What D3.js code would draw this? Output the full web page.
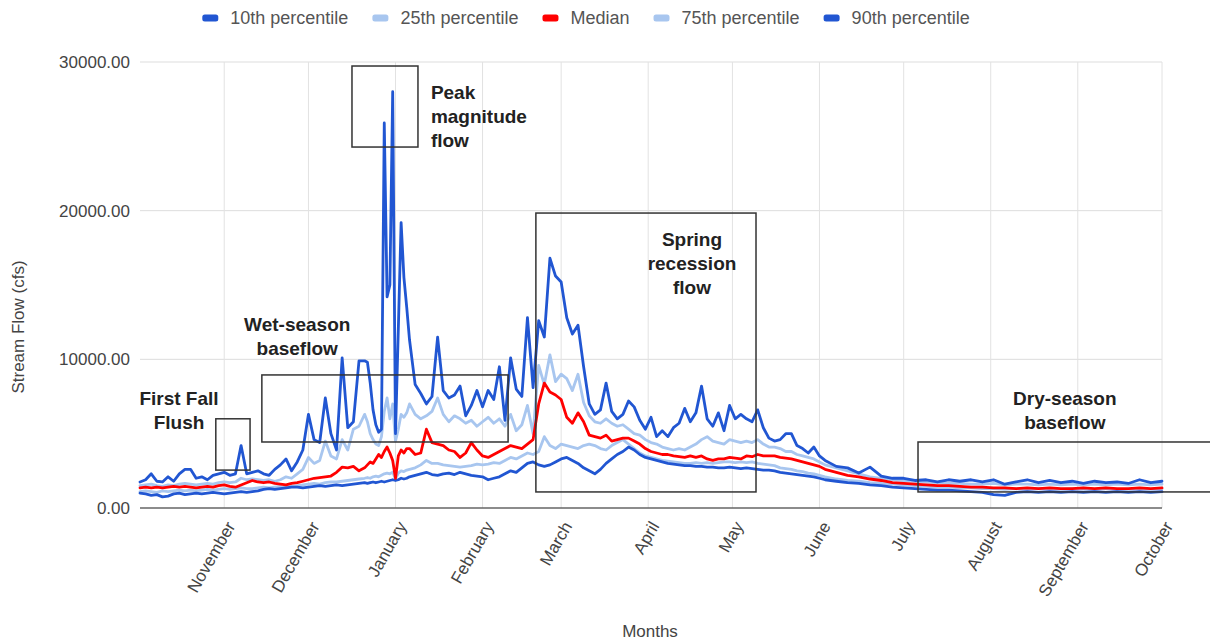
<!DOCTYPE html>
<html>
<head>
<meta charset="utf-8">
<script src="https://cdn.jsdelivr.net/npm/d3@7"></script>
<style>
  body { margin: 0; background: #fff; }
  text { font-family: "Liberation Sans", Arial, Helvetica, sans-serif; }
</style>
</head>
<body>
<svg id="chart" width="1210" height="641"></svg>
<script>
// day offsets from Oct 2 (water year), finer sampling round the January peak
const days = [
  0,2,4,6,8,10,12,14,16,18,20,22,24,26,28,30,32,34,36,38,40,42,44,46,48,50,52,54,56,58,60,62,64,66,68,70,72,74,76,78,80,
  81,82,83,84,85,86,87,88,89,90,91,92,93,94,95,96,
  98,100,102,104,106,108,110,112,114,116,118,120,122,124,126,128,
  130,132,134,136,138,140,142,144,146,148,150,152,154,156,158,160,
  162,164,166,168,170,172,174,176,178,180,182,184,186,188,190,192,
  194,196,198,200,202,204,206,208,210,212,214,216,218,220,222,224,
  226,228,230,232,234,236,238,240,242,
  244,248,252,256,260,264,268,272,276,280,284,288,292,296,300,304,308,312,316,320,324,328,332,336,340,344,348,352,356,360,364
];

const p10 = [
  1000,950,850,900,750,800,950,1000,900,950, 1000,950,1000,1050,1000,950,1000,1050,1100,1050,
  1100,1150,1250,1300,1250,1300,1350,1400,1400,1350, 1400,1450,1500,1450,1500,1550,1500,1550,1600,1650, 1700,
  1650,1700,1750,1700,1750,1800,1750,1800,1850,1900,1850,1900,2000,1950,2000,2100,
  2200,2300,2400,2250,2200,2300,2350,2250,2400,2300,2200,2150,2100,1900,2000,2100,
  2300,2500,2400,2700,3000,3100,2900,2800,2900,3100,3300,3400,3200,3000,2700,2500,
  2300,2600,3000,3300,3600,3800,4100,3900,3600,3400,3300,3200,3100,3000,2950,2900,
  2850,2850,2800,2800,2750,2750,2700,2700,2750,2700,2650,2700,2650,2600,2550,2550,
  2500,2400,2350,2300,2250,2200,2150,2100,2000,
  1900,1800,1700,1650,1550,1500,1400,1350,1300,1250,1200,1200,1150,1100,1050,900,850,1050,1100,1050,
  1100,1050,1100,1050,1100,1050,1100,1050,1100,1050,1100
];

const p25 = [
  1100,1150,1100,1050,1150,1100,1150,1200,1150,1200, 1150,1200,1250,1200,1250,1300,1250,1300,1350,1300,
  1300,1350,1400,1350,1400,1450,1400,1450,1500,1550, 1600,1650,1600,1700,1750,1750,1800,1850,1900,1950, 2000,
  2050,2000,2100,2150,2100,2200,2300,2350,2300,2400,1950,2350,2500,2450,2550,2600,
  2700,2900,3200,3000,3000,2900,2850,2800,2750,2800,2850,2950,2900,2950,3050,3000,
  3200,3400,3300,3500,3700,3600,3800,4800,4200,4000,4300,4200,4100,4000,4200,4300,
  4200,4000,3900,4200,4400,4600,4300,4000,3700,3500,3400,3300,3200,3150,3100,3050,
  3000,3000,3050,3000,3050,3000,3050,3100,3100,3050,3100,3050,3100,3000,2950,2900,
  2850,2700,2650,2600,2500,2450,2350,2300,2200,
  2100,1950,1850,1800,1700,1650,1600,1550,1500,1450,1400,1400,1350,1350,1300,1300,1250,1300,1250,1300,
  1250,1250,1300,1250,1250,1300,1250,1250,1300,1250,1300
];

const median = [
  1350,1400,1350,1400,1350,1400,1450,1400,1450,1400, 1350,1400,1450,1400,1500,1550,1450,1400,1550,1700,
  1850,1750,1700,1750,1650,1600,1550,1650,1700,1800, 1900,2000,2050,2100,2150,2400,2750,2700,2800,2500, 2700,
  2900,3100,3000,3300,3600,3400,3800,4100,3700,3200,2000,3500,3900,3700,4000,4000,
  3600,3700,5300,4400,4300,4200,3900,3800,3400,3700,4400,3900,3500,3400,3600,3800,
  4000,4200,4100,4000,4300,4600,7000,8400,7800,7600,7300,6100,5700,6400,5800,4900,
  4800,4700,4900,4500,4600,4700,4700,4500,4300,4000,3800,3700,3600,3600,3500,3450,
  3400,3500,3400,3500,3300,3200,3300,3300,3400,3350,3300,3500,3450,3600,3500,3500,
  3500,3400,3350,3300,3200,3100,3000,2900,2800,
  2600,2400,2200,2100,1950,1850,1700,1650,1600,1550,1500,1500,1450,1400,1400,1350,1350,1300,1350,1300,
  1350,1300,1300,1350,1300,1350,1300,1300,1350,1300,1350
];

const p75 = [
  1500,1550,1600,1500,1450,1550,1500,1600,1650,1600, 1550,1600,1650,1600,1700,1750,1700,1750,2000,1900,
  1950,1900,1850,1900,1800,1900,2100,2000,2300,2600, 3400,3000,3200,4500,3500,3300,4600,3900,5300,5500, 6300,
  5800,5000,4600,4300,4200,4800,6500,7400,6000,7000,4500,5300,6300,6100,6400,7000,
  6300,6000,6200,6500,7400,6300,5800,6200,6000,5700,5900,5500,5800,6100,5700,6000,
  5500,6300,5200,5600,6900,5000,9600,8300,10300,8500,9000,8700,7900,9000,7100,6200,
  5800,5700,6000,5700,5500,5600,5300,5000,4900,4600,4400,4300,4100,4000,3900,4000,
  3900,4100,4300,4600,4800,4500,4400,4300,4600,4500,4400,4500,4400,4600,4300,4100,
  4100,4000,3800,3800,3600,3500,3400,3300,3100,
  2900,2700,2500,2300,2100,2000,1900,1850,1800,1750,1700,1650,1650,1600,1600,1650,1550,1600,1600,1550,
  1600,1550,1600,1550,1600,1550,1600,1550,1600,1550,1600
];

const p90 = [
  1750,1900,2300,1800,1750,2100,1800,2300,2600,2600, 2000,2100,1900,2200,2300,2400,2200,2300,4200,2300,
  2400,2500,2300,2200,2600,2900,3300,2500,3100,3900, 6300,4600,4400,7400,5000,3900,10100,5400,5800,9900, 9900,
  9800,8400,6600,5600,5100,5300,25900,14200,15000,28000,5000,12000,19200,15500,13500,11300,
  8300,7700,7000,7500,11500,7900,7400,7600,8200,6200,6900,7900,6800,7900,7300,9500,
  5900,10100,8000,7500,12800,8100,12600,11500,16800,15600,15200,12800,11700,12300,9500,7000,
  6300,6600,8400,6500,6000,6300,7200,6800,5900,5300,6100,4800,5200,4800,5400,5700,
  6700,5800,6400,8200,6000,5500,6400,5200,6900,6000,6300,6000,5800,6600,5400,4700,
  4500,4600,5000,5000,4200,4000,3700,4100,3500,
  3200,2800,2700,2350,2750,2150,2000,2000,1850,1900,1750,1900,1800,1900,1750,1900,1600,1750,1900,1700,
  1850,1700,1800,1650,1800,1700,1750,1650,1900,1700,1800
];

const monthLabels = ["November", "December", "January", "February", "March", "April",
  "May", "June", "July", "August", "September", "October"];
const yTicks = [0, 10000, 20000, 30000];

const seriesNames = ["10th percentile", "25th percentile", "Median", "75th percentile", "90th percentile"];
const seriesColors = ["#2156d2", "#a8c6ef", "#ff0000", "#a8c6ef", "#2156d2"];

// annotation boxes: day range and flow range, text anchor in day / flow
const notes = [
  {lines: ["First Fall", "Flush"], d0: 27, d1: 39.2, v0: 2550, v1: 6000, td: 13.9, tv: 6950, anchor: "middle"},
  {lines: ["Wet-season", "baseflow"], d0: 43.4, d1: 131.1, v0: 4440, v1: 8950, td: 56, tv: 11900, anchor: "middle"},
  {lines: ["Peak", "magnitude", "flow"], d0: 75.5, d1: 99, v0: 24280, v1: 29730, td: 103.6, tv: 27500, anchor: "start"},
  {lines: ["Spring", "recession", "flow"], d0: 141, d1: 219.4, v0: 1080, v1: 19840, td: 196.6, tv: 17600, anchor: "middle"},
  {lines: ["Dry-season", "baseflow"], d0: 277.1, d1: 383, v0: 1080, v1: 4440, td: 329.4, tv: 6950, anchor: "middle"}
];

if ([p10, p25, median, p75, p90].some(s => s.length !== days.length)) console.error("length mismatch");

let width = 1210, height = 641;
let margin = {top: 62, right: 48, bottom: 133, left: 140};

const startDate = new Date(2018, 9, 2);
const dayToDate = d => new Date(+startDate + d * 864e5);
const dates = days.map(dayToDate);
const monthTicks = d3.timeMonth.range(new Date(2018, 10, 1), new Date(2019, 9, 2));

const svg = d3.select("#chart");

let x = d3.scaleTime()
    .domain([startDate, dayToDate(364)])
    .range([margin.left, width - margin.right]);
let y = d3.scaleLinear()
    .domain([0, 30000])
    .range([height - margin.bottom, margin.top]);

// grid
svg.append("g").selectAll("line")
    .data(yTicks.slice(1))
    .enter().append("line")
    .attr("x1", margin.left).attr("x2", width - margin.right)
    .attr("y1", d => y(d)).attr("y2", d => y(d))
    .attr("stroke", "#dddddd").attr("stroke-width", 1);
svg.append("g").selectAll("line")
    .data(monthTicks)
    .enter().append("line")
    .attr("x1", d => x(d)).attr("x2", d => x(d))
    .attr("y1", margin.top).attr("y2", y(0))
    .attr("stroke", "#e2e2e2").attr("stroke-width", 1);

// y axis labels
let yAxis = svg.append("g")
    .attr("transform", "translate(" + margin.left + ",0)")
    .call(d3.axisLeft(y).tickValues(yTicks).tickFormat(d3.format(".2f")).tickSize(0).tickPadding(10));
yAxis.select(".domain").remove();
yAxis.selectAll("text")
    .style("font-size", "17px")
    .attr("fill", "#444");

// x axis labels (rotated month names)
let xAxis = svg.append("g")
    .attr("transform", "translate(0," + y(0) + ")")
    .call(d3.axisBottom(x).tickValues(monthTicks).tickFormat((d, i) => monthLabels[i]).tickSize(0));
xAxis.select(".domain").remove();
xAxis.selectAll("text")
    .attr("x", 0).attr("y", 0).attr("dy", "0.35em")
    .attr("text-anchor", "end")
    .attr("transform", "translate(6,15) rotate(-60)")
    .style("font-size", "17px")
    .attr("fill", "#444");

// baseline
svg.append("line")
    .attr("x1", margin.left).attr("x2", width - margin.right)
    .attr("y1", y(0)).attr("y2", y(0))
    .attr("stroke", "#666").attr("stroke-width", 1.6);

// series
const seriesData = [p10, p25, median, p75, p90];
const drawOrder = [1, 3, 0, 4, 2];
let line = d3.line()
    .x((d, i) => x(dates[i]))
    .y(d => y(d));
svg.append("g").selectAll("path")
    .data(drawOrder)
    .enter().append("path")
    .attr("d", k => line(seriesData[k]))
    .attr("fill", "none")
    .attr("stroke", k => seriesColors[k])
    .attr("stroke-width", 2.8)
    .attr("stroke-linejoin", "round")
    .attr("stroke-linecap", "round");

// annotation boxes and labels
let noteG = svg.append("g");
notes.forEach(n => {
    noteG.append("rect")
        .attr("x", x(dayToDate(n.d0)))
        .attr("y", y(n.v1))
        .attr("width", x(dayToDate(n.d1)) - x(dayToDate(n.d0)))
        .attr("height", y(n.v0) - y(n.v1))
        .attr("fill", "none")
        .attr("stroke", "#333")
        .attr("stroke-width", 1.5);
    let t = noteG.append("text")
        .attr("x", x(dayToDate(n.td)))
        .attr("y", y(n.tv))
        .attr("text-anchor", n.anchor)
        .style("font-size", "19px")
        .style("font-weight", "bold")
        .attr("fill", "#222");
    n.lines.forEach((s, i) => {
        t.append("tspan")
            .attr("x", x(dayToDate(n.td)))
            .attr("dy", i === 0 ? 0 : 24)
            .text(s);
    });
});

// axis titles
svg.append("text")
    .attr("transform", "translate(24,327) rotate(-90)")
    .attr("text-anchor", "middle")
    .style("font-size", "17px")
    .attr("fill", "#444")
    .text("Stream Flow (cfs)");
svg.append("text")
    .attr("x", 650).attr("y", 637)
    .attr("text-anchor", "middle")
    .style("font-size", "17px")
    .attr("fill", "#444")
    .text("Months");

// legend
let legend = svg.append("g").attr("transform", "translate(0,18)");
let items = legend.selectAll("g")
    .data(seriesNames)
    .enter().append("g");
items.append("rect")
    .attr("x", 0).attr("y", -3.5)
    .attr("width", 16).attr("height", 7).attr("rx", 2.5)
    .attr("fill", (d, i) => seriesColors[i]);
items.append("text")
    .attr("x", 28).attr("dy", "0.35em")
    .style("font-size", "18px")
    .attr("fill", "#555")
    .text(d => d);
let cursor = 0;
let offsets = [];
items.each(function () {
    offsets.push(cursor);
    cursor += 28 + this.querySelector("text").getComputedTextLength() + 24;
});
let total = cursor - 24;
let legendLeft = 586 - total / 2;
items.attr("transform", (d, i) => "translate(" + (legendLeft + offsets[i]) + ",0)");
</script>
</body>
</html>
